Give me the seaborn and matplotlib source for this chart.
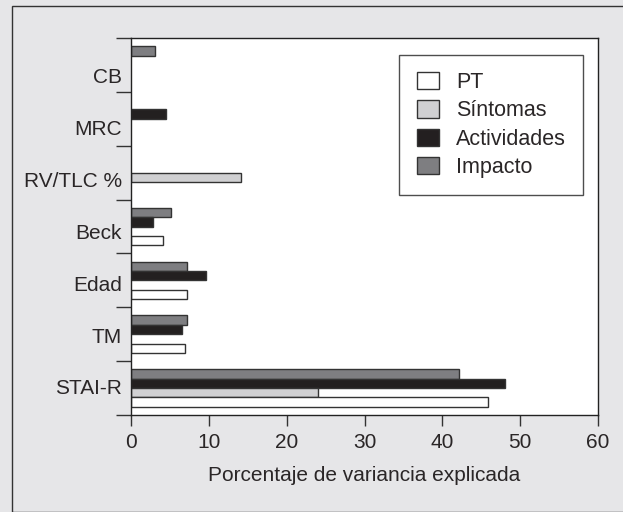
import numpy as np
import pandas as pd
import matplotlib
matplotlib.use("Agg")
import matplotlib.pyplot as plt
from matplotlib.patches import Rectangle, Patch
import seaborn as sns

categories = ["CB", "MRC", "RV/TLC %", "Beck", "Edad", "TM", "STAI-R"]
series_names = ["PT", "Síntomas", "Actividades", "Impacto"]
pt = [np.nan, np.nan, np.nan, 4.1, 7.2, 7.0, 45.9]
sintomas = [np.nan, np.nan, 14.1, np.nan, np.nan, np.nan, 24.0]
actividades = [np.nan, 4.5, np.nan, 2.8, 9.6, 6.6, 48.1]
impacto = [3.1, np.nan, np.nan, 5.1, 7.2, 7.2, 42.1]
x_ticks = [0, 10, 20, 30, 40, 50, 60]
x_label = "Porcentaje de variancia explicada"

colors = {"PT": "#ffffff", "Síntomas": "#d0d0d2",
          "Actividades": "#231f20", "Impacto": "#7e7e81"}

rows = []
for name, vals in zip(series_names, [pt, sintomas, actividades, impacto]):
    for c, v in zip(categories, vals):
        rows.append({"cat": c, "serie": name, "val": v})
df = pd.DataFrame(rows)

sns.set_theme(style="white")
plt.rcParams["font.family"] = ["Liberation Sans", "DejaVu Sans"]
FS = 15
TXT = "#2a2627"

W, H = 623, 512
fig = plt.figure(figsize=(W / 100, H / 100), dpi=100)
fig.patch.set_facecolor("#e6e6e8")
fig.patches.append(Rectangle((12 / W, 0), 1.2, (H - 6) / H, transform=fig.transFigure,
                             facecolor="none", edgecolor="#333333", linewidth=1.0))

ax = fig.add_axes([131 / W, (H - 415) / H, 467 / W, 377 / H])
ax.set_facecolor("white")

hue_order = ["Impacto", "Actividades", "Síntomas", "PT"]
sns.barplot(data=df, y="cat", x="val", hue="serie", order=categories,
            hue_order=hue_order, palette=colors, orient="h", width=0.7,
            edgecolor="#333333", linewidth=1.0, ax=ax, legend=False, errorbar=None)

n = len(categories)
ax.set_xlim(0, 60)
ax.set_ylim(n - 0.5, -0.5)
ax.set_xticks(x_ticks)
ax.set_xticklabels([str(t) for t in x_ticks], fontsize=FS, color=TXT)
ax.set_xlabel(x_label, fontsize=FS, color=TXT, labelpad=10)
ax.set_ylabel("")

# group boundaries as major ticks, labels as minor (label rows slightly tighter than groups)
ax.set_yticks(np.arange(-0.5, n, 1.0))
ax.set_yticklabels([])
ax.set_yticks(np.linspace(0.2, n - 1.02, n), minor=True)
ax.set_yticklabels(categories, minor=True, fontsize=FS, color=TXT)
ax.tick_params(axis="y", which="major", length=11, width=1, color="#333333", direction="out", left=True)
ax.tick_params(axis="y", which="minor", length=0, pad=6.5)
ax.tick_params(axis="x", which="major", length=8, width=1, color="#333333", direction="out", bottom=True, pad=5)

for s in ax.spines.values():
    s.set_visible(True)
    s.set_color("#222222")
    s.set_linewidth(1.0)

handles = [Patch(facecolor=colors[n_], edgecolor="#333333", linewidth=1.0) for n_ in series_names]
leg = ax.legend(handles, series_names, loc="upper right", bbox_to_anchor=(0.968, 0.955),
                borderaxespad=0, fontsize=15.5, frameon=True, fancybox=False,
                handlelength=1.03, handleheight=0.86, labelspacing=0.33,
                handletextpad=0.8, borderpad=0.8)
leg.get_frame().set_edgecolor("#222222")
leg.get_frame().set_linewidth(1.0)
for t in leg.get_texts():
    t.set_color(TXT)

fig.savefig("out.png", dpi=100, facecolor=fig.get_facecolor())
